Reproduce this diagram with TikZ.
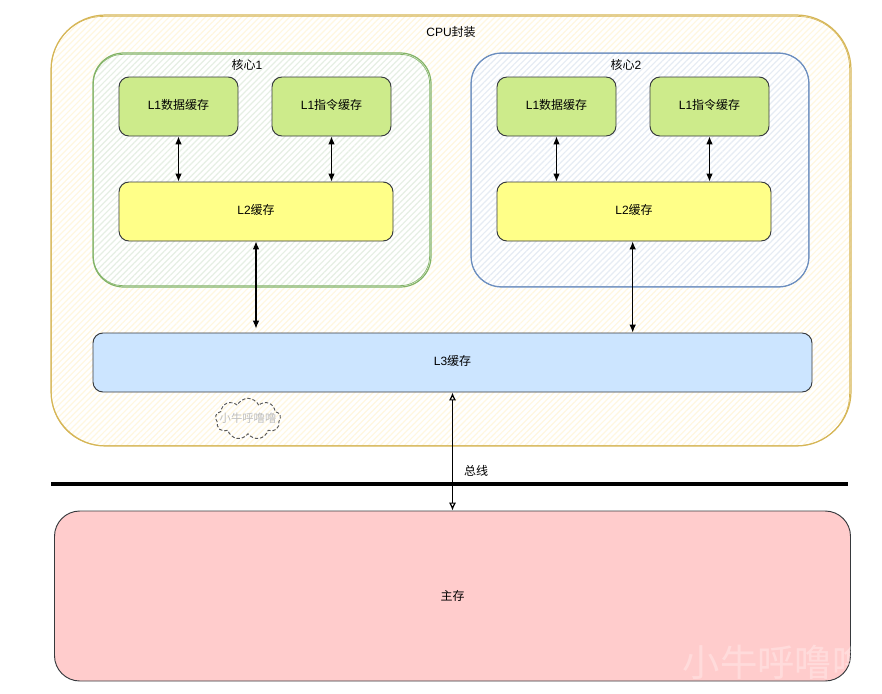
\documentclass[tikz,border=0pt]{standalone}
\usepackage{fontspec}
\setmainfont{Liberation Sans}
\newfontfamily\zh{Noto Sans CJK SC}
\usetikzlibrary{arrows.meta,patterns.meta,shapes.symbols}
\definecolor{pkgline}{HTML}{D6B656}
\definecolor{pkghatch}{HTML}{FFF7E0}
\definecolor{corealine}{HTML}{82B366}
\definecolor{coreahatch}{HTML}{E6EFE4}
\definecolor{corebline}{HTML}{6C8EBF}
\definecolor{corebhatch}{HTML}{E6ECF4}
\definecolor{boxline}{HTML}{36393D}
\definecolor{lonefill}{HTML}{CDEB8B}
\definecolor{ltwofill}{HTML}{FFFF88}
\definecolor{lthreefill}{HTML}{CCE5FF}
\definecolor{memfill}{HTML}{FFCCCC}
\tikzset{
	box/.style={draw=boxline, line width=0.7pt, rounded corners=7.5pt, inner sep=0pt, font=\fontsize{9}{11}\selectfont, text=black},
	sketch/.style={box, preaction={fill=white}, line width=0.9pt},
	hatch/.style={pattern color=#1, pattern={Lines[angle=45,distance=3.2pt,line width=0.9pt]}},
	lonebox/.style={box, fill=lonefill, text depth=3pt, minimum width=89.25pt, minimum height=44.25pt},
	ltwobox/.style={box, fill=ltwofill, text depth=3pt, minimum width=205.5pt, minimum height=44.25pt},
	corebox/.style={sketch, rounded corners=23pt, minimum width=253.5pt, minimum height=175.5pt},
	tag/.style={font=\fontsize{9}{11}\selectfont},
	link/.style={<->, >={Latex[length=6pt,width=5pt]}, line width=0.8pt, black},
}
\begin{document}
\begin{tikzpicture}[x=0.75pt, y=-0.75pt]
	\useasboundingbox (0,0) rectangle (882,693);
	\fill[white] (0,0) rectangle (882,693);
	% package and the two cores
	\node[sketch, draw=pkgline, hatch=pkghatch, rounded corners=41pt, minimum width=600pt, minimum height=323.25pt] (cpu) at (451,230.5) {};
	\node[tag] (cpulabel) at (451,32) {CPU{\zh 封装}};
	\node[corebox, draw=corealine, hatch=coreahatch] (corea) at (262,170) {};
	\node[corebox, draw=corebline, hatch=corebhatch] (coreb) at (640,170) {};
	% second stroke of the rough outlines
	\draw[pkgline, line width=0.5pt, rounded corners=39pt] ([shift={(1,2)}]cpu.north west) rectangle ([shift={(-2,-1)}]cpu.south east);
	\draw[corealine, line width=0.5pt, rounded corners=22pt] ([shift={(1,2)}]corea.north west) rectangle ([shift={(-2,-2)}]corea.south east);
	\draw[corebline, line width=0.5pt, rounded corners=22pt] ([shift={(1,1)}]coreb.north west) rectangle ([shift={(-1,-1)}]coreb.south east);
	\node[tag] (corealabel) at (247,65) {{\zh 核心}1};
	\node[tag] (coreblabel) at (626,65) {{\zh 核心}2};
	% first core
	\node[lonebox] (dataa) at (178.5,106.5) {L1{\zh 数据缓存}};
	\node[lonebox] (insta) at (331.5,106.5) {L1{\zh 指令缓存}};
	\node[ltwobox] (ltwoa) at (256,211.5) {L2{\zh 缓存}};
	% second core
	\node[lonebox] (datab) at (556.5,106.5) {L1{\zh 数据缓存}};
	\node[lonebox] (instb) at (709.5,106.5) {L1{\zh 指令缓存}};
	\node[ltwobox] (ltwob) at (634,211.5) {L2{\zh 缓存}};
	% shared cache, bus and memory
	\node[box, fill=lthreefill, text depth=3pt, minimum width=539.25pt, minimum height=44.25pt] (lthree) at (452.5,362.5) {L3{\zh 缓存}};
	\node[box, fill=memfill, rounded corners=19pt, minimum width=597pt, minimum height=127.5pt] (mem) at (452.5,596) {{\zh 主存}};
	\coordinate (busl) at (51,484);
	\coordinate (busr) at (848,484);
	\draw[line width=3pt, black] (busl) -- (busr);
	\node[tag] (buslabel) at (476,471) {{\zh 总线}};
	% links between the levels
	\draw[link] (dataa.south) -- (dataa.south |- ltwoa.north);
	\draw[link] (insta.south) -- (insta.south |- ltwoa.north);
	\draw[link] (datab.south) -- (datab.south |- ltwob.north);
	\draw[link] (instb.south) -- (instb.south |- ltwob.north);
	\draw[link] (ltwoa.south) -- ([yshift=3pt]ltwoa.south |- lthree.north);
	\draw[link] ([xshift=-1pt]ltwob.south) -- ([xshift=-1pt]ltwob.south |- lthree.north);
	\draw[<->, >={Latex[open,length=6pt,width=5.5pt]}, line width=0.9pt, black] (lthree.south) -- (mem.north);
	% stamp and corner mark
	\node[cloud, cloud puffs=9, cloud puff arc=130, aspect=1.5, draw=black!65, dash pattern=on 2.5pt off 1.5pt, line width=0.7pt, minimum width=49pt, minimum height=31pt, inner sep=0pt] (stamp) at (248,419) {};
	\node[text=black!25, font=\zh\fontsize{8.5}{10}\selectfont] (stamplabel) at (248,418) {小牛呼噜噜};
	\node[text=white, opacity=0.3, font=\zh\fontsize{28}{30}\selectfont] (mark) at (776,662) {小牛呼噜噜};
\end{tikzpicture}
\end{document}
